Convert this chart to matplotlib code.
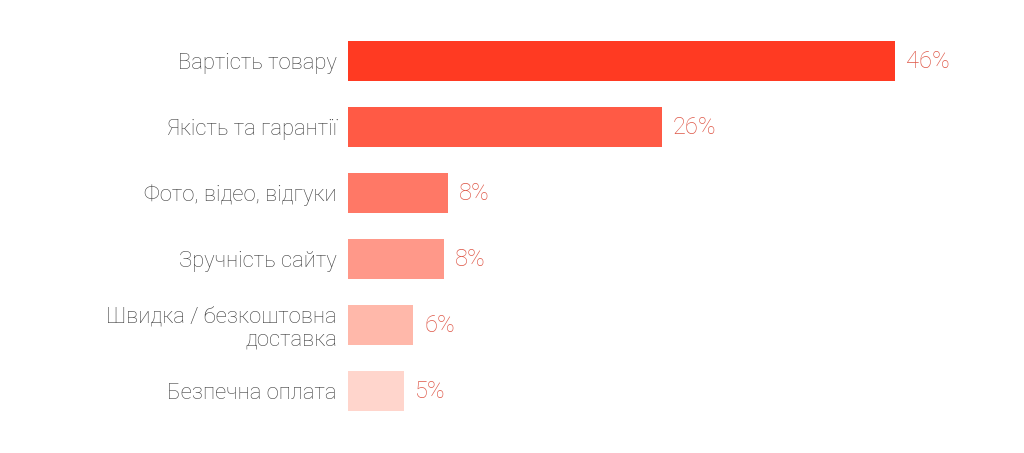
import matplotlib
matplotlib.use("Agg")
import matplotlib.pyplot as plt

categories = ["Вартість товару", "Якість та гарантії", "Фото, відео, відгуки",
              "Зручність сайту", "Швидка / безкоштовна\nдоставка", "Безпечна оплата"]
values = [46.0, 26.4, 8.4, 8.1, 5.5, 4.7]
labels = ["46%", "26%", "8%", "8%", "6%", "5%"]
colors = ["#FF3A22", "#FF5A45", "#FF7866", "#FF9889", "#FFB8AA", "#FFD5CC"]

plt.rcParams['font.family'] = ['Roboto', 'DejaVu Sans']

fig = plt.figure(figsize=(10.24, 4.53), dpi=100)
ax = fig.add_axes([348/1024, 1-424/453, 654/1024, 396/453])
y = list(range(len(categories)))
ax.barh(y, values, height=0.62, color=colors)
ax.set_xlim(0, 55)
ax.set_ylim(len(categories)-0.5, -0.5)
ax.set_yticks(y)
ax.set_yticklabels(categories, fontsize=15.8, color="#404040", fontweight="light",
                   ha="right", linespacing=1.15)
ax.tick_params(axis='y', length=0, pad=8)
ax.set_xticks([])
for s in ax.spines.values():
    s.set_visible(False)
for yi, v, lab in zip(y, values, labels):
    ax.annotate(lab, (v, yi), xytext=(11, 0), textcoords="offset pixels",
                va="center", ha="left", fontsize=17, color="#DE5646", fontweight="light")
fig.savefig("out.png", dpi=100, facecolor="white")
